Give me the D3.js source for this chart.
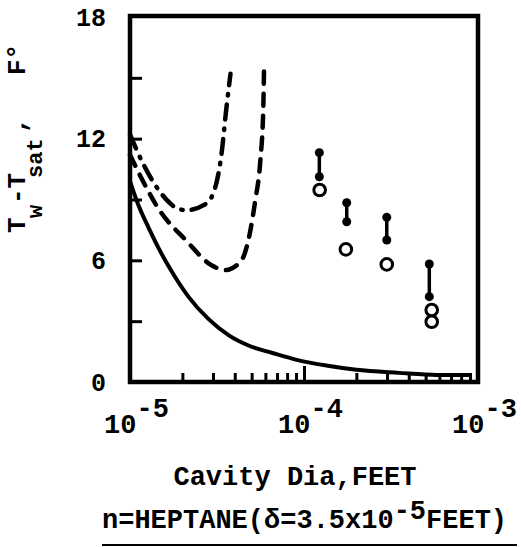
<!DOCTYPE html>
<html>
<head>
<meta charset="utf-8">
<script src="https://cdn.jsdelivr.net/npm/d3@7"></script>
<style>
  body { margin: 0; background: #fff; }
  text { font-family: "Liberation Mono", "DejaVu Sans Mono", monospace; font-weight: bold; fill: #000; }
</style>
</head>
<body>
<div id="viz"></div>
<script>
//-------Data-------------------------------
// theory curves: cavity diameter (feet) vs wall superheat (F)
var solidD = [1.0e-5, 1.12e-5, 1.28e-5, 1.47e-5, 1.78e-5, 2.17e-5, 2.83e-5, 3.7e-5, 4.8e-5, 6.6e-5, 9.2e-5, 1.37e-4, 2.0e-4, 3.5e-4, 5.8e-4, 9.2e-4];
var solidT = [9.9, 8.7, 7.6, 6.55, 5.3, 4.2, 3.1, 2.3, 1.8, 1.43, 1.08, 0.8, 0.6, 0.45, 0.35, 0.35];

var dashD = [1.0e-5, 1.125e-5, 1.47e-5, 2.09e-5, 2.94e-5, 3.54e-5, 4.37e-5, 4.79e-5, 5.25e-5, 5.61e-5, 5.83e-5, 5.9e-5];
var dashT = [11.2, 10.3, 8.5, 7.0, 5.76, 5.52, 6.0, 7.0, 8.97, 10.9, 13.4, 15.7];

var dashDotD = [1.0e-5, 1.2e-5, 1.63e-5, 1.86e-5, 2.12e-5, 2.65e-5, 2.94e-5, 3.36e-5, 3.58e-5, 3.78e-5];
var dashDotT = [12.2, 10.7, 8.97, 8.57, 8.47, 8.72, 9.11, 11.28, 13.5, 15.2];

// measured points: filled pairs joined by a bar, open circles below
var barD = [1.225e-4, 1.76e-4, 2.99e-4, 5.25e-4];
var barHigh = [11.31, 8.84, 8.12, 5.82];
var barLow = [10.12, 7.90, 7.0, 4.21];

var openD = [1.23e-4, 1.74e-4, 2.99e-4, 5.42e-4, 5.42e-4];
var openT = [9.47, 6.54, 5.80, 3.55, 2.97];

var yTicks = [3, 6, 9, 12, 15];
var yLabels = [0, 6, 12, 18];
var xMajor = [1e-5, 1e-4, 1e-3];
var xLabelExp = ["-5", "-4", "-3"];

//---------------------------------
var width = 521,
    height = 547;

var svg = d3.select("#viz")
  .append("svg")
    .attr("width", width)
    .attr("height", height);

//------Scales-----------
var xScale = d3.scaleLog()
    .domain([1e-5, 1e-3])
    .range([130, 478]);

var yScale = d3.scaleLinear()
    .domain([0, 18])
    .range([382, 17]);

// minor ticks 2..9 in each decade
var xMinor = [];
[1e-5, 1e-4].forEach(function(dec){
  d3.range(2, 10).forEach(function(k){ xMinor.push(dec * k); });
});

//------Axes-----------
var gYTicks = svg.append('g')
    .attr('transform', 'translate(130,0)')
    .call(d3.axisLeft(yScale).tickValues(yTicks).tickSize(-12).tickFormat(''));

var gYLabels = svg.append('g')
    .attr('transform', 'translate(130,0)')
    .call(d3.axisLeft(yScale).tickValues(yLabels).tickSize(0).tickPadding(24));

gYLabels.selectAll('text')
    .style('font-size', '25px')
    .style('font-family', '"Liberation Mono", monospace')
    .style('font-weight', 'bold');

var gXMinor = svg.append('g')
    .attr('transform', 'translate(0,382)')
    .call(d3.axisBottom(xScale).tickValues(xMinor).tickSize(-9).tickFormat(''));

var gXMajor = svg.append('g')
    .attr('transform', 'translate(0,382)')
    .call(d3.axisBottom(xScale).tickValues(xMajor).tickSize(-16).tickPadding(0).tickFormat(''));

svg.selectAll('.domain').remove();
svg.selectAll('.tick line').attr('stroke', '#000').attr('stroke-width', 3);

// 10^n labels with superscript
gXMajor.selectAll('.tick text')
    .attr('y', 51)
    .attr('dy', null)
    .attr('x', 6)
    .style('font-size', '27px')
    .style('font-family', '"Liberation Mono", monospace')
    .style('font-weight', 'bold')
    .each(function(d, i){
      var t = d3.select(this);
      t.append('tspan').text('10');
      t.append('tspan').attr('dy', -16).text(xLabelExp[i]);
    });

//------Frame-----------
svg.append('rect')
    .attr('x', 130)
    .attr('y', 16)
    .attr('width', 348)
    .attr('height', 366)
    .style('stroke', 'black')
    .style('stroke-width', '4.5px')
    .style('fill', 'none');

//------Curves-----------
var line = d3.line()
    .x(function(d){ return xScale(d[0]); })
    .y(function(d){ return yScale(d[1]); })
    .curve(d3.curveMonotoneX);

var plot = svg.append('g').attr('id', 'curves');

plot.append('path')
    .datum(d3.zip(solidD, solidT))
    .attr('d', line)
    .style('fill', 'none')
    .style('stroke', 'black')
    .style('stroke-width', '4px');

plot.append('path')
    .datum(d3.zip(dashD, dashT))
    .attr('d', line)
    .style('fill', 'none')
    .style('stroke', 'black')
    .style('stroke-width', '4.5px')
    .style('stroke-linecap', 'round')
    .style('stroke-dasharray', '12 10');

plot.append('path')
    .datum(d3.zip(dashDotD, dashDotT))
    .attr('d', line)
    .style('fill', 'none')
    .style('stroke', 'black')
    .style('stroke-width', '4.5px')
    .style('stroke-linecap', 'round')
    .style('stroke-dasharray', '15 9 1.5 9');

//------Measured points-----------
var pts = svg.append('g').attr('id', 'points');

pts.selectAll('line.bar')
    .data(d3.range(barD.length))
    .enter()
    .append('line')
    .attr('class', 'bar')
    .attr('x1', function(i){ return xScale(barD[i]); })
    .attr('x2', function(i){ return xScale(barD[i]); })
    .attr('y1', function(i){ return yScale(barHigh[i]); })
    .attr('y2', function(i){ return yScale(barLow[i]); })
    .style('stroke', 'black')
    .style('stroke-width', '3.5px');

pts.selectAll('circle.filled')
    .data(d3.zip(barD.concat(barD), barHigh.concat(barLow)))
    .enter()
    .append('circle')
    .attr('class', 'filled')
    .attr('r', 4.5)
    .attr('cx', function(d){ return xScale(d[0]); })
    .attr('cy', function(d){ return yScale(d[1]); })
    .style('fill', 'black');

pts.selectAll('circle.open')
    .data(d3.zip(openD, openT))
    .enter()
    .append('circle')
    .attr('class', 'open')
    .attr('r', 5.8)
    .attr('cx', function(d){ return xScale(d[0]); })
    .attr('cy', function(d){ return yScale(d[1]); })
    .style('fill', 'white')
    .style('stroke', 'black')
    .style('stroke-width', '3px');

//------Axis titles-----------
svg.append('text')
    .attr('x', 295)
    .attr('y', 485)
    .attr('text-anchor', 'middle')
    .style('font-size', '27px')
    .text('Cavity Dia,FEET');

var caption = svg.append('text')
    .attr('x', 102)
    .attr('y', 528)
    .style('font-size', '27px');
caption.append('tspan').text('n=HEPTANE(\u03b4=3.5x10');
caption.append('tspan').attr('dy', -9).text('-5');
caption.append('tspan').attr('dy', 9).text('FEET)');

svg.append('line')
    .attr('x1', 102)
    .attr('x2', 517)
    .attr('y1', 545)
    .attr('y2', 545)
    .style('stroke', 'black')
    .style('stroke-width', '2px');

var yTitle = svg.append('text')
    .attr('transform', 'translate(25,233) rotate(-90)')
    .style('font-size', '26px');
yTitle.append('tspan').attr('x', 0).text('T');
yTitle.append('tspan').attr('x', 15).attr('dy', 17).style('font-size', '22px').text('w');
yTitle.append('tspan').attr('x', 29).attr('dy', -17).text('-T');
yTitle.append('tspan').attr('x', 55).attr('dy', 17).style('font-size', '22px').text('sat');
yTitle.append('tspan').attr('x', 100).attr('dy', -17).text(',');
yTitle.append('tspan').attr('x', 158).text('F\u00b0');
</script>
</body>
</html>
